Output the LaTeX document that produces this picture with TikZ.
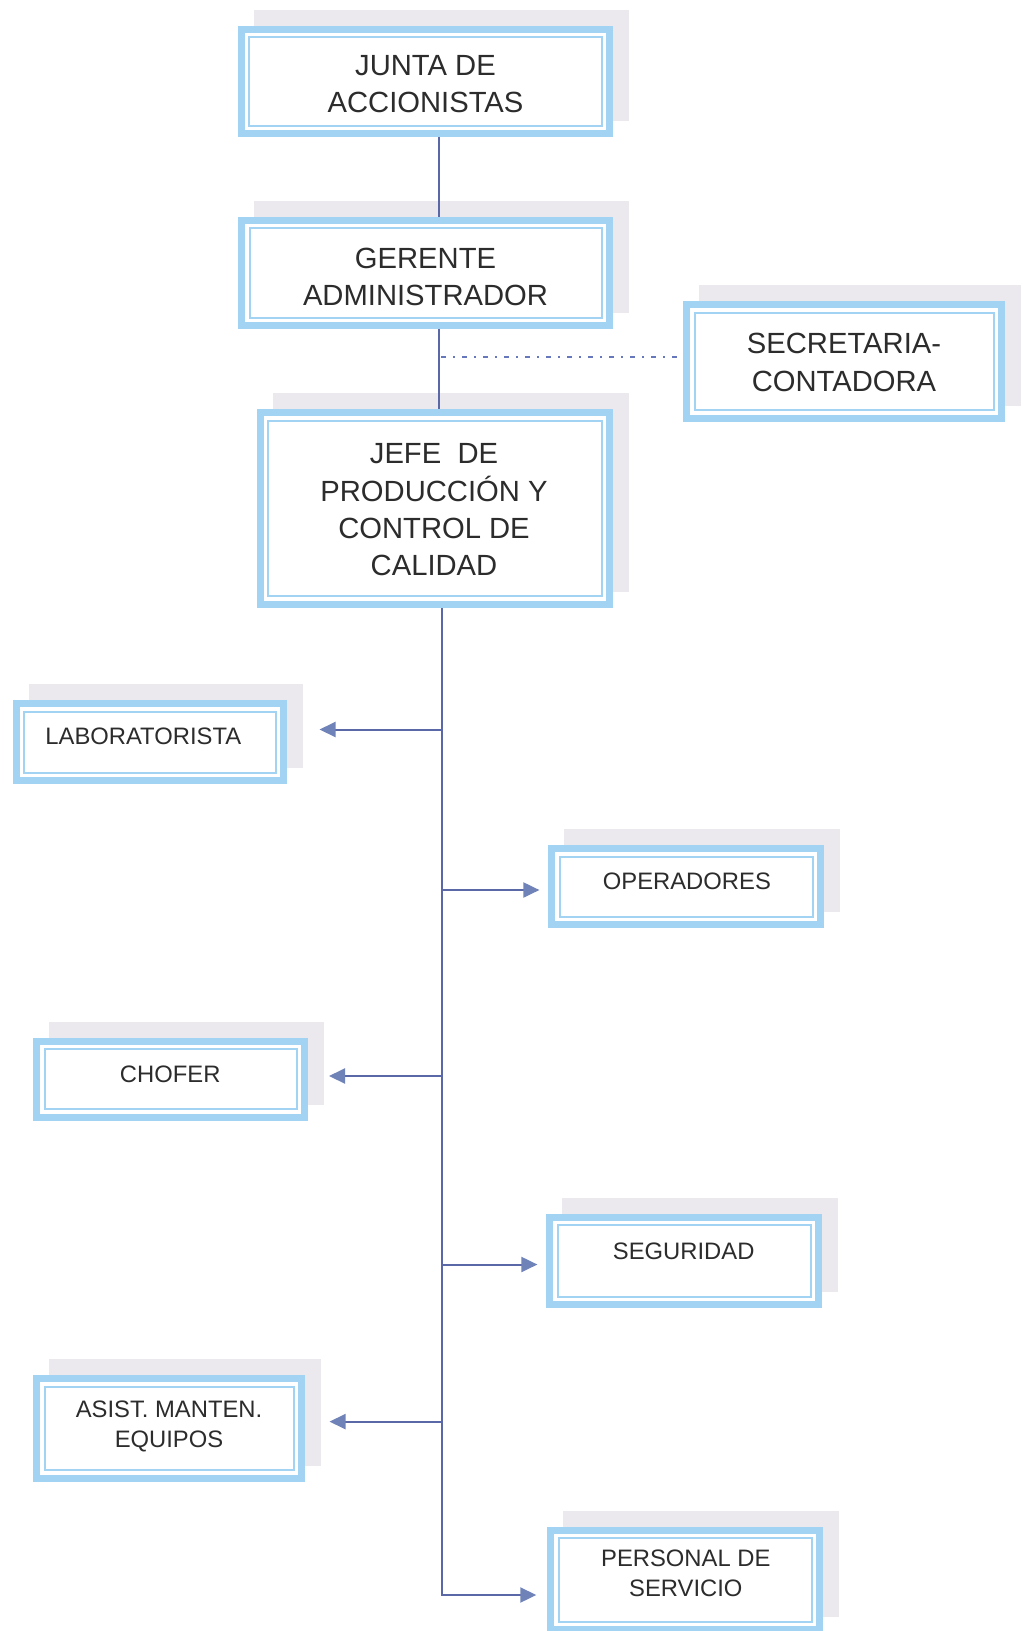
\documentclass[tikz,border=0pt]{standalone}
\usepackage{fontspec}
\setmainfont{Liberation Sans}
\usetikzlibrary{calc,arrows.meta}
\definecolor{boxblue}{HTML}{A3D3F2}
\definecolor{shadowgray}{HTML}{EBE9EE}
\definecolor{linkblue}{HTML}{5A68A8}
\definecolor{headblue}{HTML}{7083B8}
\definecolor{dashblue}{HTML}{6677BB}
\definecolor{txtgray}{HTML}{2C2C2C}
\pgfdeclarelayer{shadowlayer}
\pgfdeclarelayer{linklayer}
\pgfsetlayers{shadowlayer,linklayer,main}
\tikzset{
  orgframe/.style={draw=boxblue, line width=7pt, fill=white, inner sep=0pt},
  bigtext/.style={font=\fontsize{29.2}{37.3}\selectfont, align=center, inner sep=0pt, text=txtgray},
  smalltext/.style={font=\fontsize{23.8}{30}\selectfont, align=center, inner sep=0pt, text=txtgray},
  link/.style={draw=linkblue, line width=2pt},
  dashlink/.style={draw=dashblue, line width=2pt, dash pattern=on 5pt off 7pt on 1.5pt off 7.5pt},
  arrowlink/.style={link, -{Triangle[length=16pt,width=15pt,color=headblue]}}
}
\newcommand\orgbox[5]{%
  \begin{pgfonlayer}{shadowlayer}
    \fill[shadowgray] ({#2+16},{#3-16}) rectangle ({#4+16},{#5-16});
  \end{pgfonlayer}
  \node[orgframe, minimum width={(#4-#2-7)*1pt}, minimum height={(#5-#3-7)*1pt}] (#1) at ({(#2+#4)/2},{(#3+#5)/2}) {};
  \draw[boxblue, line width=2pt] ({#2+11.5},{#3+11.5}) rectangle ({#4-11.5},{#5-11.5});
}
\begin{document}
\begin{tikzpicture}[x=1pt, y=-1pt]
\begin{pgfonlayer}{shadowlayer}
\fill[white] (0,0) rectangle (1023,1631);
\end{pgfonlayer}
\useasboundingbox (0,0) rectangle (1023,1631);

\orgbox{junta}{237.5}{25.5}{613}{137}
\orgbox{gerente}{238.3}{216.5}{613}{329}
\orgbox{secretaria}{683}{301}{1005}{421.5}
\orgbox{jefe}{256.5}{409}{613}{607.5}
\orgbox{lab}{12.7}{700}{287}{784}
\orgbox{oper}{548.4}{845}{824.2}{928.3}
\orgbox{chofer}{33.3}{1037.6}{308}{1120.8}
\orgbox{segur}{546.4}{1213.5}{822.2}{1308.2}
\orgbox{asist}{33.3}{1375}{305}{1481.7}
\orgbox{personal}{547.3}{1526.7}{823.3}{1633}

\node[bigtext] (junta-t) at (425.5,84) {JUNTA DE\\ACCIONISTAS};
\node[bigtext] (gerente-t) at (425.5,276.8) {GERENTE\\ADMINISTRADOR};
\node[bigtext] (secretaria-t) at (844,362.5) {SECRETARIA-\\CONTADORA};
\node[bigtext] (jefe-t) at (434,510) {JEFE\ \ DE\\PRODUCCIÓN Y\\CONTROL DE\\CALIDAD};
\node[smalltext] (lab-t) at (143.3,736) {LABORATORISTA};
\node[smalltext] (oper-t) at (686.9,881.6) {OPERADORES};
\node[smalltext] (chofer-t) at (170.2,1074) {CHOFER};
\node[smalltext] (segur-t) at (683.7,1251) {SEGURIDAD};
\node[smalltext] (asist-t) at (169,1426.7) {ASIST. MANTEN.\\EQUIPOS};
\node[smalltext] (personal-t) at (685.8,1573.3) {PERSONAL DE\\SERVICIO};

\coordinate (trunkA) at (439,0);
\coordinate (trunkB) at (441.5,0);
\coordinate (secj) at (441,357.3);
\coordinate (rLab) at (441.5,729.5);
\coordinate (rOper) at (441.5,890);
\coordinate (rChof) at (441.5,1076);
\coordinate (rSeg) at (441.5,1264.5);
\coordinate (rAsi) at (441.5,1421.6);
\coordinate (rPers) at (441.5,1595);

\begin{pgfonlayer}{linklayer}
\draw[link] (junta.south -| trunkA) -- (gerente.north -| trunkA);
\draw[link] (gerente.south -| trunkA) -- (jefe.north -| trunkA);
\draw[dashlink] (secj) -- (secretaria.west |- secj);
\draw[arrowlink, shorten >=11pt] (jefe.south -| trunkB) |- (personal.west |- rPers);
\draw[arrowlink, shorten >=32.5pt] (rLab) -- (lab.east |- rLab);
\draw[arrowlink, shorten >=9pt] (rOper) -- (oper.west |- rOper);
\draw[arrowlink, shorten >=21pt] (rChof) -- (chofer.east |- rChof);
\draw[arrowlink, shorten >=9pt] (rSeg) -- (segur.west |- rSeg);
\draw[arrowlink, shorten >=24.5pt] (rAsi) -- (asist.east |- rAsi);
\end{pgfonlayer}
\end{tikzpicture}
\end{document}
